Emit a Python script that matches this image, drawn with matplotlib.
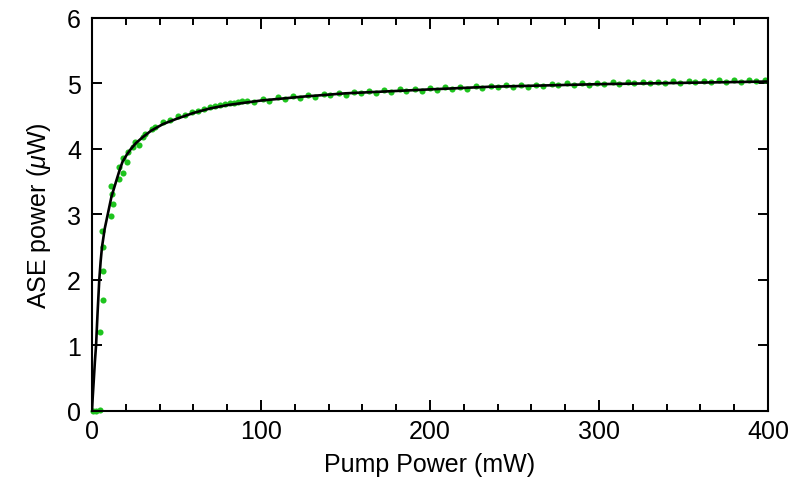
import matplotlib
matplotlib.use("Agg")
import matplotlib.pyplot as plt
from matplotlib.ticker import MultipleLocator

# measured ASE power vs pump power (green dots)
pump_mw = [0.5, 2.5, 4.5, 4.7, 6.7, 6.7, 6.3, 5.7, 11.0, 12.2, 11.8, 11.4, 16.2, 18.1,
           16.2, 20.5, 18.5, 21.1, 24.1, 25.6, 28.0, 30.0, 31.4, 35.3, 37.3, 42.2, 46.2,
           51.0, 55.0, 59.0, 62.9, 66.0, 69.8, 72.5, 75.7, 78.5, 81.7, 84.0, 86.6, 89.0,
           92, 96, 101, 105, 110, 114, 119, 123, 128, 132, 137, 141, 146, 150, 155, 159,
           164, 168, 173, 177, 182, 186, 191, 195, 200, 204, 209, 213, 218, 222, 227, 231,
           236, 240, 245, 249, 254, 258, 263, 267, 272, 276, 281, 285, 290, 294, 299, 303,
           308, 312, 317, 321, 326, 330, 335, 339, 344, 348, 353, 357, 362, 366, 371, 375,
           380, 384, 389, 393, 398]
ase_uw = [0.0, 0.0, 0.02, 1.21, 1.69, 2.13, 2.50, 2.75, 2.97, 3.16, 3.31, 3.44, 3.54, 3.64,
          3.73, 3.80, 3.86, 3.96, 4.03, 4.10, 4.06, 4.18, 4.23, 4.31, 4.34, 4.41, 4.45,
          4.50, 4.52, 4.56, 4.58, 4.61, 4.64, 4.65, 4.67, 4.68, 4.70, 4.70, 4.71, 4.73,
          4.74, 4.72, 4.77, 4.74, 4.79, 4.76, 4.81, 4.78, 4.82, 4.80, 4.84, 4.82, 4.86, 4.83,
          4.87, 4.85, 4.88, 4.86, 4.90, 4.87, 4.91, 4.88, 4.92, 4.89, 4.93, 4.90, 4.94, 4.91,
          4.95, 4.92, 4.96, 4.93, 4.96, 4.94, 4.97, 4.95, 4.98, 4.95, 4.98, 4.96, 4.99, 4.97,
          5.00, 4.97, 5.00, 4.98, 5.01, 4.99, 5.02, 4.99, 5.02, 5.00, 5.03, 5.00, 5.03, 5.01,
          5.04, 5.01, 5.04, 5.02, 5.04, 5.02, 5.05, 5.03, 5.05, 5.03, 5.05, 5.04, 5.05]

# fitted curve (black line)
fit_x = [0, 0.4, 1.0, 1.7, 2.4, 3.3, 4.3, 5.1, 5.9, 7.5, 9.3, 11.5, 14.2, 16.0, 18.0, 20.5,
         23.0, 26.0, 30.0, 35.0, 42.0, 50.0, 60.0, 70.0, 80.0, 100, 125, 150, 200, 235,
         300, 350, 400]
fit_y = [0, 0.2, 0.45, 0.75, 1.0, 1.5, 2.0, 2.28, 2.5, 2.78, 3.0, 3.27, 3.5, 3.65, 3.8, 3.91,
         4.0, 4.09, 4.18, 4.28, 4.38, 4.46, 4.55, 4.62, 4.67, 4.74, 4.80, 4.85, 4.91, 4.95,
         4.99, 5.01, 5.03]

plt.rcParams['font.family'] = ['Liberation Sans', 'DejaVu Sans']
plt.rcParams['mathtext.fontset'] = 'custom'
plt.rcParams['mathtext.it'] = 'Liberation Sans:italic'
plt.rcParams['mathtext.rm'] = 'Liberation Sans'

fig = plt.figure(figsize=(7.89, 4.81), dpi=100)
ax = fig.add_axes([0.1166, 0.1435, 0.8568, 0.8170])

ax.plot(pump_mw, ase_uw, 'o', color='#1ec41e', ms=4.4, mec='none', zorder=2, clip_on=False)
ax.plot(fit_x, fit_y, color='black', lw=1.9, zorder=3)

ax.set_xlim(0, 400)
ax.set_ylim(0, 6)
ax.xaxis.set_major_locator(MultipleLocator(100))
ax.xaxis.set_minor_locator(MultipleLocator(20))
ax.yaxis.set_major_locator(MultipleLocator(1))
ax.tick_params(which='both', direction='in', top=True, right=True, width=1.4,
               labelsize=18, colors='black')
ax.tick_params(axis='x', which='major', length=8, pad=6)
ax.tick_params(axis='x', which='minor', length=5)
ax.tick_params(axis='y', which='major', length=7, pad=8)
for s in ax.spines.values():
    s.set_linewidth(1.5)

ax.set_xlabel('Pump Power (mW)', fontsize=18, labelpad=6)
ax.set_ylabel(r'ASE power ($\mu$W)', fontsize=18, labelpad=10)

fig.savefig('out.png', dpi=100)
